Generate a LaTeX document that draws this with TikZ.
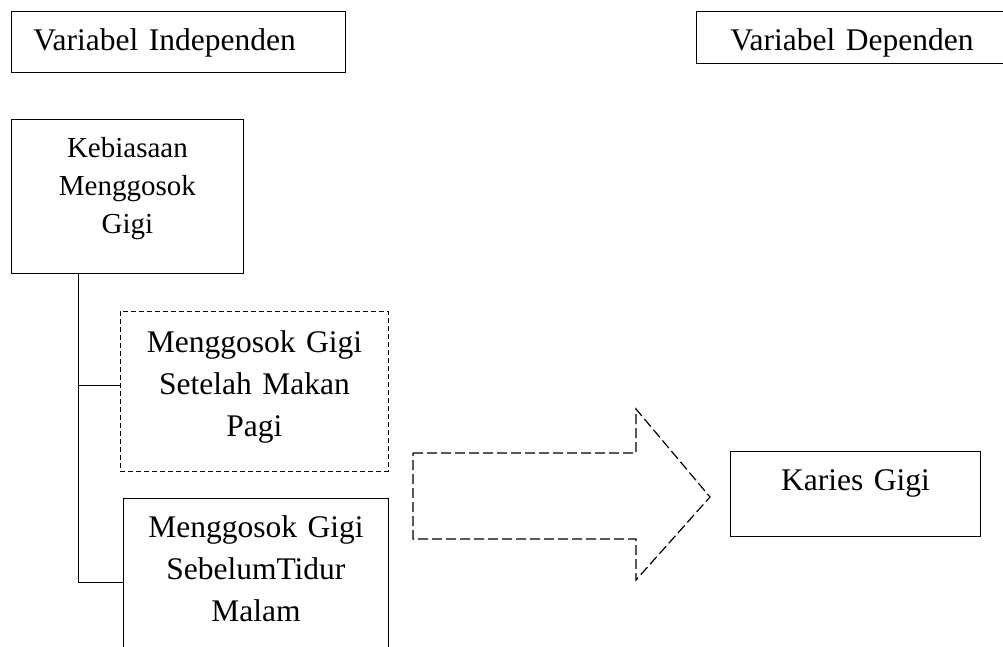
\documentclass[tikz,border=0pt]{standalone}
\usepackage{fontspec}
\setmainfont{Liberation Serif}
\usetikzlibrary{calc}
\begin{document}
\begin{tikzpicture}[x=1pt,y=-1pt,
  box/.style={draw,line width=0.8pt,anchor=north west,inner sep=0pt,
    font=\fontsize{31.5}{42}\selectfont},
  dashbox/.style={box,dash pattern=on 5pt off 3pt}]
\useasboundingbox[fill=white] (0,0) rectangle (1003,646);
\node[box,inner xsep=22pt,text width=290pt,text height=39pt,text depth=22pt,align=left] (indep) at (11,11) {Variabel Independen};
\node[box,inner xsep=34pt,text width=272pt,text height=39pt,text depth=13pt,align=left] (dep) at (696,11) {Variabel Dependen};
\node[box,text width=232pt,text height=38pt,text depth=116pt,align=center,font=\fontsize{29}{38}\selectfont] (habit) at (11,119) {Kebiasaan\\Menggosok\\Gigi};
\node[dashbox,text width=268pt,text height=41pt,text depth=119pt,align=center] (pagi) at (120,311) {Menggosok Gigi\\Setelah Makan\\Pagi};
\node[box,text width=265pt,text height=39pt,text depth=170pt,align=center] (malam) at (123,498) {Menggosok Gigi\\SebelumTidur\\Malam};
\node[box,text width=250pt,text height=39pt,text depth=46pt,align=center] (karies) at (730,451) {Karies Gigi};
\coordinate (trunk) at (78,273);
\draw[line width=0.8pt] (trunk) |- ([yshift=6pt]pagi.west);
\draw[line width=0.8pt] (trunk) |- ($(malam.north west)+(0,84)$);
\draw[line width=1.2pt,dash pattern=on 10pt off 4pt] (413,453) -- (636,453) -- (636,409) -- (710,497) -- (636,580) -- (636,539) -- (413,539) -- cycle;
\end{tikzpicture}
\end{document}
